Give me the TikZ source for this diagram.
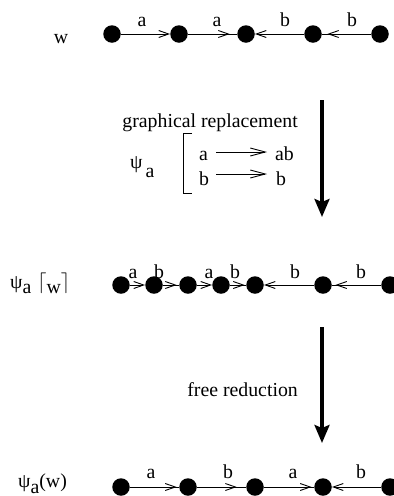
\documentclass[tikz,border=0pt]{standalone}
\usepackage{fontspec}
\setmainfont{Liberation Serif}
\usetikzlibrary{arrows.meta,decorations.markings}
\begin{document}
\begin{tikzpicture}[x=1pt,y=-1pt,
  dot/.style={circle,fill=black,inner sep=0pt,minimum size=17.5pt},
  txt/.style={inner sep=0pt,anchor=base,font=\fontsize{19.8}{24}\selectfont},
  edge/.style={line width=0.9pt},
  tipend/.style={-{Straight Barb[length=10pt,width=7pt]}},
  tipat/.style={postaction={decorate,decoration={markings,mark=at position #1 with {\arrow{Straight Barb[length=10pt,width=7pt]}}}}},
  rulearrow/.style={line width=0.9pt,-{Straight Barb[length=15pt,width=8pt]}},
  big/.style={line width=3.2pt,-{Stealth[length=18pt,width=15pt,inset=3pt]}},
]
\useasboundingbox (0,0) rectangle (394,496);

% row 1
\node[dot] (r1a) at (112,34) {};
\node[dot] (r1b) at (179,34) {};
\node[dot] (r1c) at (246,34) {};
\node[dot] (r1d) at (313,34) {};
\node[dot] (r1e) at (380,34) {};
\draw[edge,tipend] (r1a) -- (r1b);
\draw[edge,tipat=0.85] (r1b) -- (r1c);
\draw[edge,tipend] (r1d) -- (r1c);
\draw[edge,tipat=0.89] (r1e) -- (r1d);
\node[txt] (l1a) at (142,26) {a};
\node[txt] (l1b) at (217,26) {a};
\node[txt] (l1c) at (285,26) {b};
\node[txt] (l1d) at (352,26) {b};
\node[txt] (w1) at (61,43) {w};

% replacement
\node[txt,anchor=base east] (gr) at (298,127) {graphical replacement};
\node[txt,anchor=base west] (psi1) at (130,168) {ψ\kern3pt\raisebox{-9pt}{a}};
\draw[line width=0.9pt] (192,133) -- (183,133) -- (183,193) -- (192,193);
\node[txt,anchor=base west] (ra) at (199,160) {a};
\node[txt,anchor=base west] (rab) at (275,160) {ab};
\node[txt,anchor=base west] (rb) at (199,185) {b};
\node[txt,anchor=base west] (rbb) at (276,185) {b};
\coordinate (p1s) at (216,152);
\coordinate (p1e) at (267,152);
\coordinate (p2s) at (216,174);
\coordinate (p2e) at (267,174);
\draw[rulearrow] (p1s) -- (p1e);
\draw[rulearrow] (p2s) -- (p2e);
\coordinate (g1s) at (322,100);
\coordinate (g1e) at (322,217);
\draw[big] (g1s) -- (g1e);

% row 2
\node[dot] (r2a) at (121,285) {};
\node[dot] (r2b) at (154,285) {};
\node[dot] (r2c) at (188,285) {};
\node[dot] (r2d) at (221,285) {};
\node[dot] (r2e) at (255,285) {};
\node[dot] (r2f) at (323,285) {};
\node[dot] (r2g) at (390,285) {};
\draw[edge,tipend] (r2a) -- (r2b);
\draw[edge,tipat=0.85] (r2b) -- (r2c);
\draw[edge,tipend] (r2c) -- (r2d);
\draw[edge,tipat=0.91] (r2d) -- (r2e);
\draw[edge,tipend] (r2f) -- (r2e);
\draw[edge,tipat=0.93] (r2g) -- (r2f);
\node[txt] (l2a) at (133,278) {a};
\node[txt] (l2b) at (159,278) {b};
\node[txt] (l2c) at (209,278) {a};
\node[txt] (l2d) at (235,278) {b};
\node[txt] (l2e) at (295,278) {b};
\node[txt] (l2f) at (361,278) {b};
\node[txt,anchor=base west] (psi2) at (10,288) {ψ\raisebox{-5pt}{a\kern6pt\raisebox{5pt}{$\lceil$}w\raisebox{5pt}{$\rceil$}}};

% free reduction
\node[txt,anchor=base east] (fr) at (298,396) {free reduction};
\coordinate (g2s) at (322,327);
\coordinate (g2e) at (322,443);
\draw[big] (g2s) -- (g2e);

% row 3
\node[dot] (r3a) at (121,487) {};
\node[dot] (r3b) at (188,487) {};
\node[dot] (r3c) at (255,487) {};
\node[dot] (r3d) at (323,487) {};
\node[dot] (r3e) at (390,487) {};
\draw[edge,tipat=0.95] (r3a) -- (r3b);
\draw[edge,tipat=0.81] (r3b) -- (r3c);
\draw[edge,tipat=0.95] (r3c) -- (r3d);
\draw[edge,tipend] (r3e) -- (r3d);
\node[txt] (l3a) at (151,478) {a};
\node[txt] (l3b) at (228,478) {b};
\node[txt] (l3c) at (293,478) {a};
\node[txt] (l3d) at (361,478) {b};
\node[txt,anchor=base west] (psi3) at (18,487) {ψ\raisebox{-6pt}{a}(w)};
\end{tikzpicture}
\end{document}
